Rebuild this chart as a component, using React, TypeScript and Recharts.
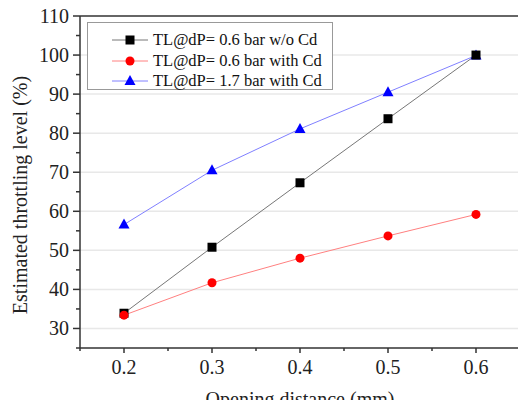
import { LineChart, Line, XAxis, YAxis, CartesianGrid, ReferenceLine } from "recharts";

const distance = [0.2, 0.3, 0.4, 0.5, 0.6];
const tlNoCd06 = [33.9, 50.8, 67.3, 83.7, 100];
const tlCd06 = [33.4, 41.7, 48.0, 53.7, 59.2];
const tlCd17 = [56.6, 70.5, 81.1, 90.5, 99.9];

const xTicks = [0.15, 0.2, 0.25, 0.3, 0.35, 0.4, 0.45, 0.5, 0.55, 0.6, 0.65];
const yTicks = [25, 30, 35, 40, 45, 50, 55, 60, 65, 70, 75, 80, 85, 90, 95, 100, 105, 110];
const gridValues = [30, 40, 50, 60, 70, 80, 90, 100];

const data = distance.map((x, i) => ({ x, noCd06: tlNoCd06[i], cd06: tlCd06[i], cd17: tlCd17[i] }));

const FONT = "'Liberation Serif', 'Times New Roman', serif";
const AXIS = "#333";
const textStyle = { fontFamily: FONT, fontSize: 20, fill: "#222" };

const series = [
  { key: "noCd06", name: "TL@dP= 0.6 bar w/o Cd", line: "#777777", mark: "#000000", shape: "square" },
  { key: "cd06", name: "TL@dP= 0.6 bar with Cd", line: "#ff8080", mark: "#ff0000", shape: "circle" },
  { key: "cd17", name: "TL@dP= 1.7 bar with Cd", line: "#8080ff", mark: "#0000ff", shape: "triangle" },
];

function Marker({ cx, cy, shape, color }: { cx: number; cy: number; shape: string; color: string }) {
  if (shape === "square") return <rect x={cx - 4.5} y={cy - 4.5} width={9} height={9} fill={color} />;
  if (shape === "circle") return <circle cx={cx} cy={cy} r={4.5} fill={color} />;
  return <polygon points={`${cx},${cy - 6} ${cx - 5.5},${cy + 4} ${cx + 5.5},${cy + 4}`} fill={color} />;
}

const Y_TICK_SIZE = 7;
const Y_TICK_MARGIN = 4;

function YTick(props: any) {
  const { x, y, payload } = props;
  const axisX = x + Y_TICK_SIZE + Y_TICK_MARGIN;
  const major = payload.value % 10 === 0;
  return (
    <g>
      <line x1={axisX} x2={axisX - (major ? 7 : 4)} y1={y} y2={y} stroke={AXIS} strokeWidth={1.5} />
      {major && (
        <text x={x} y={y} dy="0.35em" textAnchor="end" style={textStyle}>
          {payload.value}
        </text>
      )}
    </g>
  );
}

const X_TICK_SIZE = 5;

function XTick(props: any) {
  const { x, y, payload } = props;
  const axisY = y - X_TICK_SIZE;
  const major = Math.round(payload.value * 100) % 10 === 0;
  return (
    <g>
      <line x1={x} x2={x} y1={axisY} y2={axisY + (major ? 5 : 3)} stroke={AXIS} strokeWidth={1.5} />
      {major && (
        <text x={x} y={axisY + 26} textAnchor="middle" style={textStyle}>
          {payload.value.toFixed(1)}
        </text>
      )}
    </g>
  );
}

function LegendBox() {
  return (
    <div
      style={{
        position: "absolute",
        left: 87,
        top: 22,
        width: 246,
        height: 68,
        border: "1px solid #999",
        background: "#fff",
        boxSizing: "border-box",
        paddingTop: 7,
        fontFamily: FONT,
        fontSize: 16.5,
        color: "#111",
      }}
    >
      {series.map((s) => (
        <div key={s.key} style={{ display: "flex", alignItems: "center", height: 20.5, whiteSpace: "nowrap" }}>
          <svg width={65} height={14} style={{ display: "block" }}>
            <line x1={24} x2={60} y1={7} y2={7} stroke={s.line} strokeWidth={1} />
            <Marker cx={42} cy={7} shape={s.shape} color={s.mark} />
          </svg>
          <span>{s.name}</span>
        </div>
      ))}
    </div>
  );
}

export default function App() {
  const drawOrder = [series[2], series[0], series[1]];
  return (
    <div style={{ position: "fixed", left: 0, top: 0, width: 518, height: 400, overflow: "hidden", background: "#fff" }}>
      <LineChart width={560} height={420} data={data} margin={{ top: 16, right: 40, left: 0, bottom: 12 }}>
        <CartesianGrid vertical={false} horizontalValues={gridValues} stroke="#e8e8e8" strokeWidth={1.5} />
        <XAxis
          type="number"
          dataKey="x"
          domain={[0.15, 0.65]}
          ticks={xTicks}
          interval={0}
          height={60}
          tickSize={X_TICK_SIZE}
          tickMargin={0}
          tickLine={false}
          tick={<XTick />}
          stroke={AXIS}
          strokeWidth={1.5}
          label={({ viewBox }: any) => (
            <text x={viewBox.x + viewBox.width / 2} y={viewBox.y + 58} textAnchor="middle" style={textStyle}>
              Opening distance (mm)
            </text>
          )}
        />
        <YAxis
          type="number"
          domain={[25, 110]}
          ticks={yTicks}
          interval={0}
          width={80}
          tickSize={Y_TICK_SIZE}
          tickMargin={Y_TICK_MARGIN}
          tickLine={false}
          tick={<YTick />}
          stroke={AXIS}
          strokeWidth={1.5}
          label={() => (
            <text x={27} y={195} transform="rotate(-90 27 195)" textAnchor="middle" style={textStyle}>
              Estimated throttling level (%)
            </text>
          )}
        />
        <ReferenceLine y={110} stroke={AXIS} strokeWidth={1.5} />
        {drawOrder.map((s) => (
          <Line
            key={s.key}
            type="linear"
            dataKey={s.key}
            name={s.name}
            stroke={s.line}
            strokeWidth={1}
            isAnimationActive={false}
            dot={(p: any) => <Marker key={p.index} cx={p.cx} cy={p.cy} shape={s.shape} color={s.mark} />}
            activeDot={false}
          />
        ))}
      </LineChart>
      <LegendBox />
    </div>
  );
}
